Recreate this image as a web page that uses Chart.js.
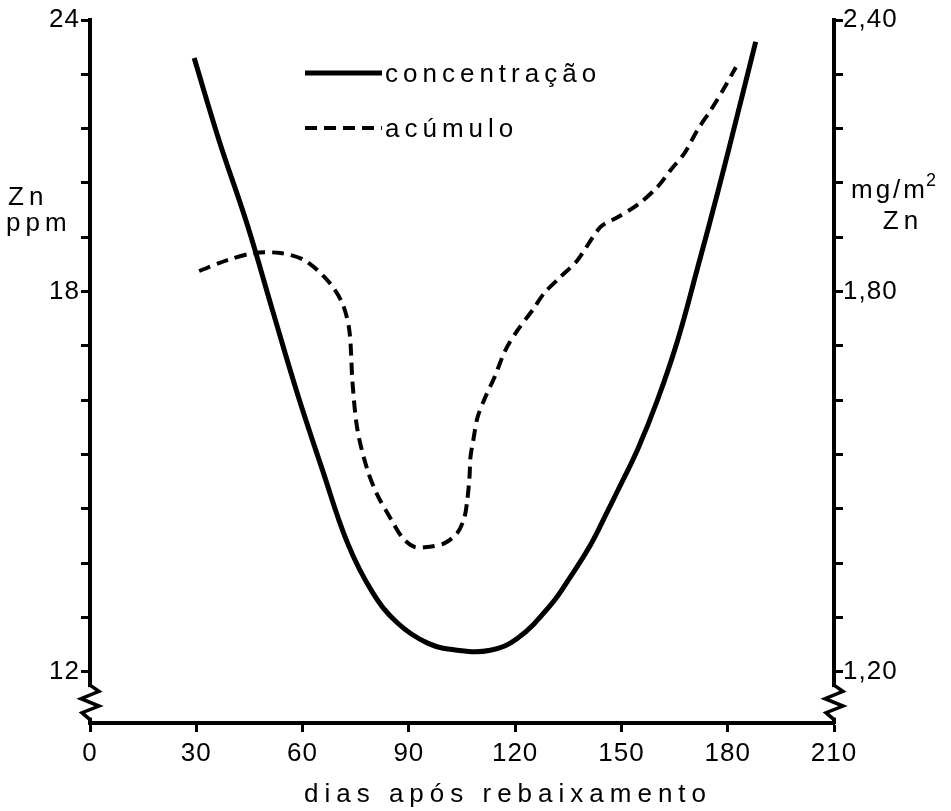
<!DOCTYPE html>
<html>
<head>
<meta charset="utf-8">
<script src="https://cdn.jsdelivr.net/npm/chart.js@4/dist/chart.umd.min.js"></script>
<style>
  html, body { margin: 0; padding: 0; background: #fff; }
  canvas { display: block; }
</style>
</head>
<body>
<canvas id="zn" width="951" height="811"></canvas>
<script>
// concentração (ppm Zn, eixo esquerdo)
const concDays = [29.4, 36.5, 44.4, 51.5, 58.5, 65.6, 72.7, 79.7, 86.8, 95.3, 103.7, 113.0,
                  120.7, 130.0, 135.6, 141.3, 146.1, 148.9, 154.6, 160.2, 165.9, 171.5, 177.2, 182.8, 187.9];
const concPpm  = [23.30, 21.77, 20.23, 18.66, 17.13, 15.72, 14.37, 13.47, 12.90, 12.53, 12.40, 12.40,
                  12.62, 13.23, 13.75, 14.34, 14.96, 15.33, 16.10, 17.01, 18.11, 19.44, 20.83, 22.27, 23.60];

// acúmulo (mg/m2 Zn, eixo direito)
const accDays = [30.8, 38.8, 46.4, 53.7, 60.5, 67.0, 71.2, 73.2, 74.1, 75.5, 78.3, 81.1, 84.8, 88.2, 91.6, 95.3,
                 100.1, 103.7, 105.7, 106.5, 107.1, 107.4, 108.2, 109.4, 111.6, 114.2, 117.3, 120.7, 124.9, 128.3,
                 132.8, 137.6, 144.1, 148.9, 154.6, 160.2, 163.9, 167.8, 171.5, 175.2, 179.2, 182.3];
const accMg   = [1.938, 1.958, 1.971, 1.971, 1.958, 1.921, 1.879, 1.829, 1.732, 1.645, 1.572, 1.526, 1.483, 1.447, 1.430, 1.430,
                 1.437, 1.456, 1.485, 1.517, 1.557, 1.596, 1.627, 1.669, 1.706, 1.743, 1.793, 1.829, 1.866, 1.898,
                 1.927, 1.958, 2.019, 2.037, 2.060, 2.093, 2.124, 2.155, 2.198, 2.234, 2.277, 2.313];

// axis ticks, labelled as printed on the original
const dayTicks  = [0, 30, 60, 90, 120, 150, 180, 210];
const ppmTicks  = [12, 13, 14, 15, 16, 17, 18, 19, 20, 21, 22, 23, 24];
const ppmLabels = ['12', '', '', '', '', '', '', '18', '', '', '', '', '24'];
const mgTicks   = [1.2, 1.3, 1.4, 1.5, 1.6, 1.7, 1.8, 1.9, 2.0, 2.1, 2.2, 2.3, 2.4];
const mgLabels  = ['1,20', '', '', '', '', '', '', '1,80', '', '', '', '', '2,40'];

const FONT = '"Liberation Sans", Arial, sans-serif';
const INK = '#000';

const paperBits = {
    id: 'paperBits',
    beforeDraw(chart) {
        chart.ctx.letterSpacing = '1px';
    },
    afterDraw(chart) {
        const ctx = chart.ctx;
        const area = chart.chartArea;
        const y = chart.scales.y;

        // axis breaks (zigzag) near the bottom of both vertical axes
        const top = y.getPixelForValue(11.72), bot = y.getPixelForValue(11.16);
        [area.left, area.right].forEach(x => {
            ctx.save();
            ctx.fillStyle = '#fff';
            ctx.fillRect(x - 4, top, 8, bot - top);
            ctx.strokeStyle = INK;
            ctx.lineWidth = 3.5;
            const h = (bot - top) / 5;
            ctx.beginPath();
            ctx.moveTo(x, top - 2);
            ctx.lineTo(x + 9, top + h * 0.7);
            ctx.lineTo(x - 9, top + h * 1.9);
            ctx.lineTo(x + 9, top + h * 3.1);
            ctx.lineTo(x - 8, top + h * 4.2);
            ctx.lineTo(x, bot + 2);
            ctx.stroke();
            ctx.restore();
        });

        ctx.save();
        ctx.fillStyle = INK;
        ctx.textBaseline = 'alphabetic';

        // side labels
        ctx.font = '26px ' + FONT;
        ctx.letterSpacing = '5px';
        ctx.textAlign = 'left';
        ctx.fillText('Zn', 8, 205);
        ctx.fillText('ppm', 6, 231);
        ctx.letterSpacing = '3px';
        ctx.fillText('mg/m', 851, 198);
        const mw = ctx.measureText('mg/m').width;
        ctx.font = '18px ' + FONT;
        ctx.fillText('2', 851 + mw - 2, 186);
        ctx.font = '26px ' + FONT;
        ctx.textAlign = 'center';
        ctx.letterSpacing = '5px';
        ctx.fillText('Zn', 903, 229);

        // x axis title
        ctx.letterSpacing = '6px';
        ctx.fillText('dias após rebaixamento', 508, 802);

        // legend
        ctx.textAlign = 'left';
        ctx.letterSpacing = '5px';
        const rows = [73, 128];
        chart.data.datasets.forEach((ds, i) => {
            const ly = rows[i];
            ctx.save();
            ctx.strokeStyle = ds.borderColor;
            ctx.lineWidth = ds.borderWidth;
            ctx.setLineDash(ds.borderDash || []);
            ctx.beginPath();
            ctx.moveTo(305, ly);
            ctx.lineTo(382, ly);
            ctx.stroke();
            ctx.restore();
            ctx.fillText(ds.label, 385, ly + 9);
        });
        ctx.restore();
    }
};

const fixTicks = list => scale => { scale.ticks = list.map(v => ({ value: v })); };
const axisGrid = { drawOnChartArea: false, color: INK, tickLength: 9, tickWidth: 3 };
const axisBorder = { color: INK, width: 4 };
const tickFont = { family: FONT, size: 26 };

new Chart(document.getElementById('zn'), {
    type: 'line',
    data: {
        datasets: [
            {
                label: 'concentração',
                data: concDays.map((d, i) => ({ x: d, y: concPpm[i] })),
                yAxisID: 'y',
                borderColor: INK,
                borderWidth: 5,
                pointRadius: 0,
                tension: 0.4,
                fill: false
            },
            {
                label: 'acúmulo',
                data: accDays.map((d, i) => ({ x: d, y: accMg[i] })),
                yAxisID: 'y2',
                borderColor: INK,
                borderWidth: 4,
                borderDash: [12, 7],
                pointRadius: 0,
                tension: 0.3,
                fill: false
            }
        ]
    },
    options: {
        responsive: false,
        animation: false,
        layout: { padding: { top: 20, left: 0, right: 0, bottom: 0 } },
        plugins: { legend: { display: false }, tooltip: { enabled: false } },
        scales: {
            x: {
                type: 'linear',
                position: 'bottom',
                min: 0,
                max: 210,
                afterBuildTicks: fixTicks(dayTicks),
                afterFit: s => { s.height = 88; },
                grid: axisGrid,
                border: axisBorder,
                ticks: { color: INK, font: tickFont, padding: 6, autoSkip: false, maxRotation: 0 }
            },
            y: {
                type: 'linear',
                position: 'left',
                min: 11.06,
                max: 24,
                afterBuildTicks: fixTicks(ppmTicks),
                afterFit: s => { s.width = 90; },
                grid: axisGrid,
                border: axisBorder,
                ticks: { color: INK, font: tickFont, padding: 1, autoSkip: false,
                         callback: (v, i) => ppmLabels[i] }
            },
            y2: {
                type: 'linear',
                position: 'right',
                min: 1.106,
                max: 2.4,
                afterBuildTicks: fixTicks(mgTicks),
                afterFit: s => { s.width = 117; },
                grid: axisGrid,
                border: axisBorder,
                ticks: { color: INK, font: tickFont, padding: 0, autoSkip: false,
                         callback: (v, i) => mgLabels[i] }
            }
        }
    },
    plugins: [paperBits]
});
</script>
</body>
</html>
